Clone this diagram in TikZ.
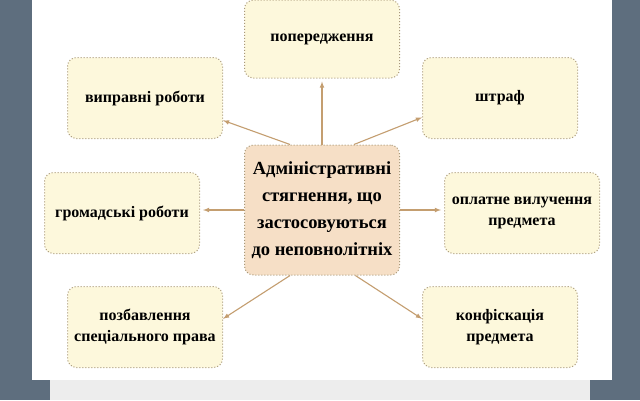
\documentclass[tikz,border=0pt]{standalone}
\usepackage{fontspec}
\setmainfont{Liberation Serif}
\begin{document}
\begin{tikzpicture}[x=1pt,y=-1pt]
        \tikzset{
            leaf/.style={rounded corners=9pt,draw=boxline,dotted,line width=1pt,fill=leaffill,
                minimum width=155pt,minimum height=81pt,align=center,
                font=\bfseries\fontsize{16}{21}\selectfont},
            core/.style={leaf,fill=corefill,minimum height=130pt,
                font=\bfseries\fontsize{18.5}{27}\selectfont},
            link/.style={->,>=latex,line width=1.1pt,draw=arrowtan}
        }
        \definecolor{slate}{HTML}{5E6E7E}
        \definecolor{boxline}{HTML}{A89878}
        \definecolor{leaffill}{HTML}{FDF8DC}
        \definecolor{corefill}{HTML}{F6DFC6}
        \definecolor{arrowtan}{HTML}{C49E70}
        \definecolor{bandgray}{HTML}{EDEDED}
        \fill[slate] (0,0) rectangle (640,400);
        \fill[white] (32,0) rectangle (612,380);
        \fill[bandgray] (50,380) rectangle (590,400);
        \useasboundingbox (0,0) rectangle (640,400);

        \node[core] (c) at (322,210) {Адміністративні\\стягнення, що\\застосовуються\\до неповнолітніх};

        \node[leaf,minimum height=78pt] (pop) at (322,39) {попередження};
        \node[leaf] (vr) at (145,98) {виправні роботи};
        \node[leaf] (sh) at (500,98) {штраф};
        \node[leaf] (gr) at (122,213) {громадські роботи};
        \node[leaf] (ov) at (522,213) {оплатне вилучення\\предмета};
        \node[leaf] (pz) at (145,327) {позбавлення\\спеціального права};
        \node[leaf] (kf) at (500,327) {конфіскація\\предмета};

        \draw[link,shorten >=3pt] (c.north) -- (pop.south);
        \draw[link] (c.116) -- (vr.-16);
        \draw[link] (c.64) -- (sh.194);
        \draw[link,shorten >=3pt] (c.west) -- (gr.east |- c.west);
        \draw[link,shorten >=3pt] (c.east) -- (ov.west |- c.east);
        \draw[link] (c.244) -- (pz.6);
        \draw[link] (c.297) -- (kf.174);

    \end{tikzpicture}
\end{document}
